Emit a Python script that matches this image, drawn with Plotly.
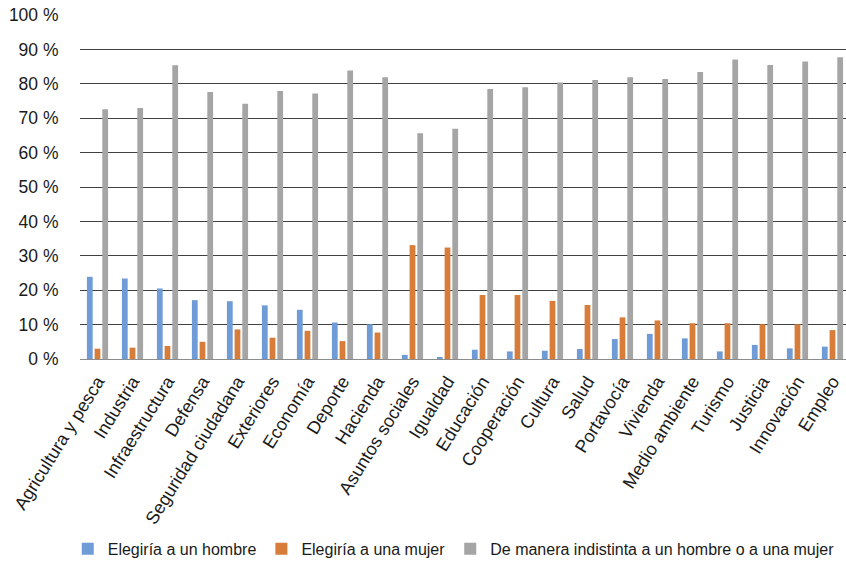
import plotly.graph_objects as go

# Ministries / policy areas on the x axis
areas = [
    "Agricultura y pesca", "Industria", "Infraestructura", "Defensa",
    "Seguridad ciudadana", "Exteriores", "Economía", "Deporte", "Hacienda",
    "Asuntos sociales", "Igualdad", "Educación", "Cooperación", "Cultura",
    "Salud", "Portavocía", "Vivienda", "Medio ambiente", "Turismo",
    "Justicia", "Innovación", "Empleo",
]

# Percentage of respondents for each answer
hombre = [23.9, 23.4, 20.5, 17.1, 16.8, 15.6, 14.3, 10.6, 10.1, 1.2, 0.5,
          2.7, 2.2, 2.4, 2.9, 5.8, 7.3, 6.0, 2.2, 4.1, 3.1, 3.6]
mujer = [3.0, 3.3, 3.8, 5.0, 8.6, 6.2, 8.2, 5.2, 7.7, 33.1, 32.4,
         18.6, 18.6, 16.9, 15.7, 12.1, 11.2, 10.4, 10.4, 10.1, 10.1, 8.4]
indistinto = [72.6, 73.0, 85.4, 77.6, 74.2, 77.9, 77.2, 83.9, 81.9, 65.6, 66.9,
              78.5, 79.0, 80.4, 81.1, 81.9, 81.4, 83.4, 87.1, 85.5, 86.5, 87.7]

series_names = [
    "Elegiría a un hombre",
    "Elegiría a una mujer",
    "De manera indistinta a un hombre o a una mujer",
]

y_tick_values = [0, 10, 20, 30, 40, 50, 60, 70, 80, 90, 100]
y_tick_labels = ["0 %", "10 %", "20 %", "30 %", "40 %", "50 %",
                 "60 %", "70 %", "80 %", "90 %", "100 %"]

colors = ["#6F9BD7", "#D87C3A", "#A5A5A5"]
FONT = "Liberation Sans, Arial, Helvetica, sans-serif"

fig = go.Figure()
for name, vals, col in zip(series_names, [hombre, mujer, indistinto], colors):
    fig.add_trace(go.Bar(
        x=areas, y=vals, name=name,
        marker=dict(color=col, line=dict(width=0)),
        hoverinfo="x+y+name",
    ))

fig.update_layout(
    width=846, height=567,
    margin=dict(l=80, r=0, t=15, b=208, autoexpand=False),
    paper_bgcolor="white", plot_bgcolor="white",
    barmode="group", bargap=0.34, bargroupgap=0.25,
    font=dict(family=FONT, size=17, color="#1a1a1a"),
    showlegend=True,
    legend=dict(
        orientation="h", x=-0.016, xanchor="left", y=-0.552, yanchor="middle",
        font=dict(size=16, color="#1a1a1a"), itemwidth=30,
        bgcolor="rgba(0,0,0,0)", traceorder="normal",
    ),
)

fig.update_xaxes(
    type="category", range=[-0.5, 21.386], automargin=False,
    tickangle=-58, tickfont=dict(size=18),
    showgrid=False, showline=True, linecolor="#8c8c8c", linewidth=1,
    ticks="outside", ticklen=4, tickcolor="rgba(0,0,0,0)", zeroline=False,
)

fig.update_yaxes(
    range=[0, 100], tickvals=y_tick_values, ticktext=y_tick_labels,
    automargin=False,
    showgrid=True, gridcolor="#404040", gridwidth=1,
    zeroline=False, showline=False,
    ticks="outside", ticklen=17, tickcolor="rgba(0,0,0,0)",
    tickfont=dict(size=17.5),
)

fig.write_html("out.html")
